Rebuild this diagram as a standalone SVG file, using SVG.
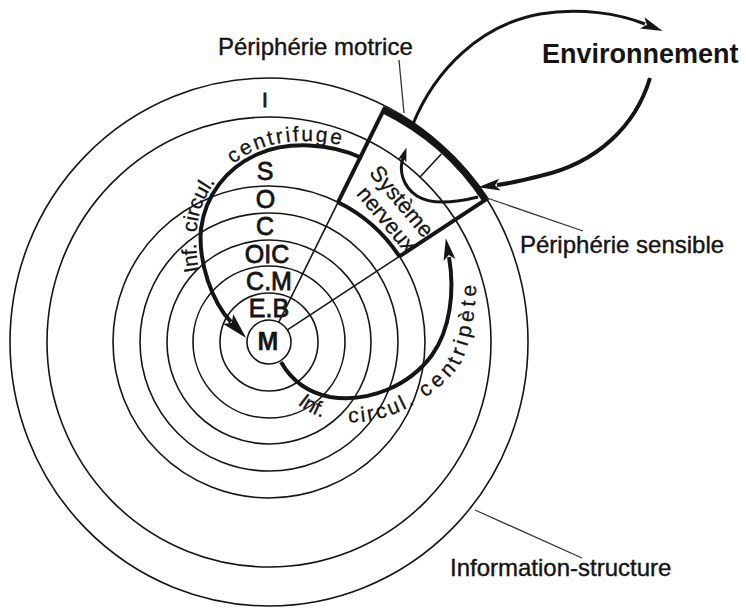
<svg xmlns="http://www.w3.org/2000/svg" width="746" height="609" viewBox="0 0 746 609">
<style>
.ln{fill:none;stroke:#151515;stroke-width:1.6}
.thk{fill:none;stroke:#151515;stroke-width:4}
.band{fill:none;stroke:#151515;stroke-width:7}
.lead{fill:none;stroke:#333;stroke-width:1.3}
.t{font-family:"Liberation Sans",Arial,sans-serif;fill:#151515}
.rl{font-size:25px;text-anchor:middle;stroke:#151515;stroke-width:0.8}
.cap{font-size:24px;stroke:#151515;stroke-width:0.4}
.arc{font-size:21px;stroke:#151515;stroke-width:0.3}
</style>
<defs>
<marker id="ah" viewBox="0 -7 22 14" refX="3" refY="0" markerWidth="22" markerHeight="14" markerUnits="userSpaceOnUse" orient="auto"><path d="M0,-6 L22,0 L0,6 L5,0 Z" fill="#151515"/></marker>
<marker id="ahb" viewBox="0 -8 26 16" refX="4" refY="0" markerWidth="26" markerHeight="16" markerUnits="userSpaceOnUse" orient="auto"><path d="M0,-7 L26,0 L0,7 L5,0 Z" fill="#151515"/></marker>
<marker id="ahs" viewBox="0 -5 14 10" refX="3" refY="0" markerWidth="14" markerHeight="10" markerUnits="userSpaceOnUse" orient="auto"><path d="M0,-4.5 L14,0 L0,4.5 L3,0 Z" fill="#151515"/></marker>
<path id="tpf" d="M 202,285 C 197,265 195,248 197,228 C 200,196 221,166 256,150 C 288,137 330,138 366,153"/>
<path id="tpp" d="M 287,393 C 303,414 330,424 360,422 C 400,419 440,392 460,365 C 472,340 477,305 476,272"/>
</defs>
<rect width="746" height="609" fill="#fff"/>

<g id="ring-I">
<ellipse class="ln" cx="269" cy="342" rx="259" ry="264"/>
<text class="t rl" x="265" y="107" style="font-size:21px">I</text>
</g>
<g id="ring-outer2">
<ellipse class="ln" cx="269" cy="342" rx="222" ry="225"/>
</g>
<g id="ring-S">
<circle class="ln" cx="269" cy="342" r="156"/>
<text class="t rl" x="265" y="180">S</text>
</g>
<g id="ring-O">
<circle class="ln" cx="269" cy="342" r="129"/>
<text class="t rl" x="265.5" y="208">O</text>
</g>
<g id="ring-C">
<circle class="ln" cx="269" cy="342" r="102"/>
<text class="t rl" x="265" y="235">C</text>
</g>
<g id="ring-OIC">
<circle class="ln" cx="269" cy="342" r="76"/>
<text class="t rl" x="267" y="263">OIC</text>
</g>
<g id="ring-CM">
<circle class="ln" cx="269" cy="342" r="49"/>
<text class="t rl" x="269" y="290">C.M</text>
</g>
<g id="ring-EB">
<text class="t rl" x="269" y="317">E.B</text>
</g>
<g id="node-M">
<circle class="ln" cx="269" cy="342" r="22" fill="#fff"/>
<text class="t rl" x="268" y="350" style="font-weight:bold;stroke-width:0.3">M</text>
</g>

<g id="systeme-nerveux">
<line class="ln" x1="278.7" y1="322.3" x2="338.1" y2="202.2"/>
<line class="ln" x1="287.4" y1="329.9" x2="399.4" y2="256.4"/>
<line class="thk" x1="338.1" y1="202.2" x2="385.1" y2="107.2"/>
<line class="thk" x1="399.4" y1="256.4" x2="488" y2="198.2"/>
<path class="thk" d="M 338.1,202.2 A 156 156 0 0 1 399.4,256.4"/>
<line class="ln" x1="420.3" y1="176.8" x2="441.3" y2="154"/>
<path class="band" d="M 383.7,110 A 259 259 0 0 1 485.5,199.8"/>
<text class="t" font-size="22" text-anchor="middle" stroke="#151515" stroke-width="0.3" transform="translate(396,206) rotate(50)">Système</text>
<text class="t" font-size="22" text-anchor="middle" stroke="#151515" stroke-width="0.3" transform="translate(381,224) rotate(50)">nerveux</text>
</g>

<g id="environnement">
<text class="t" x="542" y="63" font-size="27" font-weight="bold">Environnement</text>
</g>
<g id="peripherie-motrice">
<text class="t cap" x="218" y="55">Périphérie motrice</text>
</g>
<g id="peripherie-sensible">
<text class="t cap" x="520" y="253">Périphérie sensible</text>
</g>
<g id="information-structure">
<text class="t cap" x="450" y="576">Information-structure</text>
</g>

<g id="connectors">
<path class="thk" d="M 362,158 C 330,143 288,141 258,154 C 226,168 205,196 201,229 C 198,262 212,302 231,322" marker-end="url(#ahb)"/>
<path class="thk" d="M 281,362 C 290,378 305,392 330,397 C 370,403 410,385 432,355 C 450,330 455,292 449,257" marker-end="url(#ah)"/>
<path class="thk" style="stroke-width:3" d="M 478,197 C 458,202 433,206 417,196 C 402,186 399,170 403,158" marker-end="url(#ahs)"/>
<path class="thk" style="stroke-width:3" d="M 413,124 C 435,70 480,25 540,14 C 580,7 620,14 645,24" marker-end="url(#ah)"/>
<path class="thk" style="stroke-width:4" d="M 650,78 C 636,125 598,163 540,176 C 520,181 505,184 497,185" marker-end="url(#ah)"/>
<line class="lead" x1="399" y1="60" x2="404" y2="113"/>
<line class="lead" x1="487" y1="198" x2="583" y2="231"/>
<line class="lead" x1="475" y1="510" x2="582" y2="558"/>
</g>
<g id="label-centrifuge">
<text class="t arc"><textPath href="#tpf" startOffset="14" textLength="28" lengthAdjust="spacing">Inf.</textPath></text>
<text class="t arc"><textPath href="#tpf" startOffset="53" textLength="55" lengthAdjust="spacing">circul.</textPath></text>
<text class="t arc"><textPath href="#tpf" startOffset="133" textLength="113" lengthAdjust="spacing">centrifuge</textPath></text>
</g>
<g id="label-centripete">
<text class="t arc"><textPath href="#tpp" startOffset="15" textLength="29" lengthAdjust="spacing">Inf.</textPath></text>
<text class="t arc"><textPath href="#tpp" startOffset="70" textLength="70" lengthAdjust="spacing">circul.</textPath></text>
<text class="t arc"><textPath href="#tpp" startOffset="152" textLength="130" lengthAdjust="spacing">centripète</textPath></text>
</g>
</svg>
